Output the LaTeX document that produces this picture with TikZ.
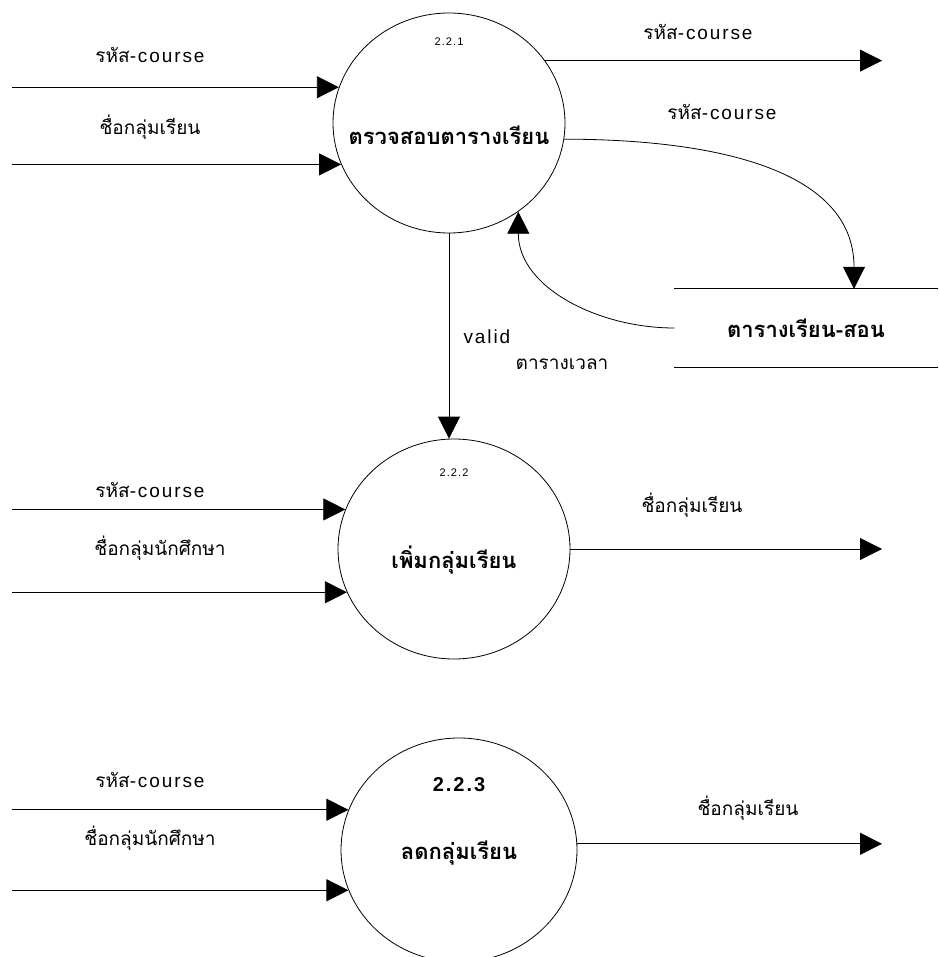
\documentclass[tikz,border=0pt]{standalone}
\usepackage{fontspec}
\setmainfont{Liberation Sans}[LetterSpace=10]
\newfontfamily\thaifont[Script=Thai]{Loma}
\usetikzlibrary{arrows.meta,shapes.geometric,positioning}
\begin{document}
\begin{tikzpicture}[x=1pt,y=-1pt,
    process/.style={draw,ellipse,line width=0.8pt,minimum width=232pt,minimum height=220pt,inner sep=0pt},
    flow/.style={line width=0.8pt,-{Triangle[length=22pt,width=22pt]}},
    lbl/.style={font=\fontsize{19}{22}\selectfont},
    num/.style={font=\fontsize{11}{13}\selectfont},
    title/.style={font=\fontsize{22}{26}\selectfont\thaifont\bfseries}]
  \useasboundingbox (0,0) rectangle (938,957);
  \node[process] (p1) at (449,123) {};
  \node[process] (p2) at (454,549) {};
  \node[process,minimum width=236pt,minimum height=224pt] (p3) at (459,850) {};
  \node[minimum width=263pt,minimum height=78pt] (store) at (806,328) {};
  \draw[line width=0.8pt] (store.north west) -- (store.north east);
  \draw[line width=0.8pt] (store.south west) -- (store.south east);
  \node[title] (s) at (store.center) {ตารางเรียน-สอน};
  \node[num] (n1) at ([yshift=81pt]p1.center) {2.2.1};
  \node[title] (t1) at ([yshift=-12pt]p1.center) {ตรวจสอบตารางเรียน};
  \node[num] (n2) at ([yshift=76pt]p2.center) {2.2.2};
  \node[title] (t2) at ([yshift=-11pt]p2.center) {เพิ่มกลุ่มเรียน};
  \node[font=\fontsize{20}{24}\selectfont\bfseries] (n3) at ([yshift=65pt]p3.center) {2.2.3};
  \node[title] (t3) at ([yshift=-3pt]p3.center) {ลดกลุ่มเรียน};
  \coordinate (lft) at (12,0);
  \coordinate (rgt) at (882,0);
  \foreach \p/\a/\b in {p1/162/201, p2/160/202, p3/160/200}{
      \draw[flow] (\p.\a -| lft) -- (\p.\a);
      \draw[flow] (\p.\b -| lft) -- (\p.\b);
    }
  \node[lbl] (a1) at (150,55) {{\thaifont รหัส}-course};
  \node[lbl] (b1) at (150,127) {\thaifont ชื่อกลุ่มเรียน};
  \node[lbl] (a2) at (150,490) {{\thaifont รหัส}-course};
  \node[lbl] (b2) at (160,548) {\thaifont ชื่อกลุ่มนักศึกษา};
  \node[lbl] (a3) at (150,780) {{\thaifont รหัส}-course};
  \node[lbl] (b3) at (150,838) {\thaifont ชื่อกลุ่มนักศึกษา};
  \draw[flow] (p1.33) -- (p1.33 -| rgt);
  \node[lbl] (c1) at (698,32) {{\thaifont รหัส}-course};
  \draw[flow] (p1.-8) to[out=0,in=90] ([xshift=48pt]store.north);
  \node[lbl] (c2) at (722,112) {{\thaifont รหัส}-course};
  \draw[flow] (store.west) to[out=180,in=-90] (p1.-52);
  \node[lbl] (c3) at (562,364) {\thaifont ตารางเวลา};
  \draw[flow] (p1.south) -- (p1.south |- p2.north);
  \node[lbl,anchor=west] (v) at (460,337) {valid};
  \draw[flow] (p2.east) -- (p2.east -| rgt);
  \node[lbl] (c4) at (692,505) {\thaifont ชื่อกลุ่มเรียน};
  \draw[flow] (p3.3) -- (p3.3 -| rgt);
  \node[lbl] (c5) at (748,808) {\thaifont ชื่อกลุ่มเรียน};
\end{tikzpicture}
\end{document}
